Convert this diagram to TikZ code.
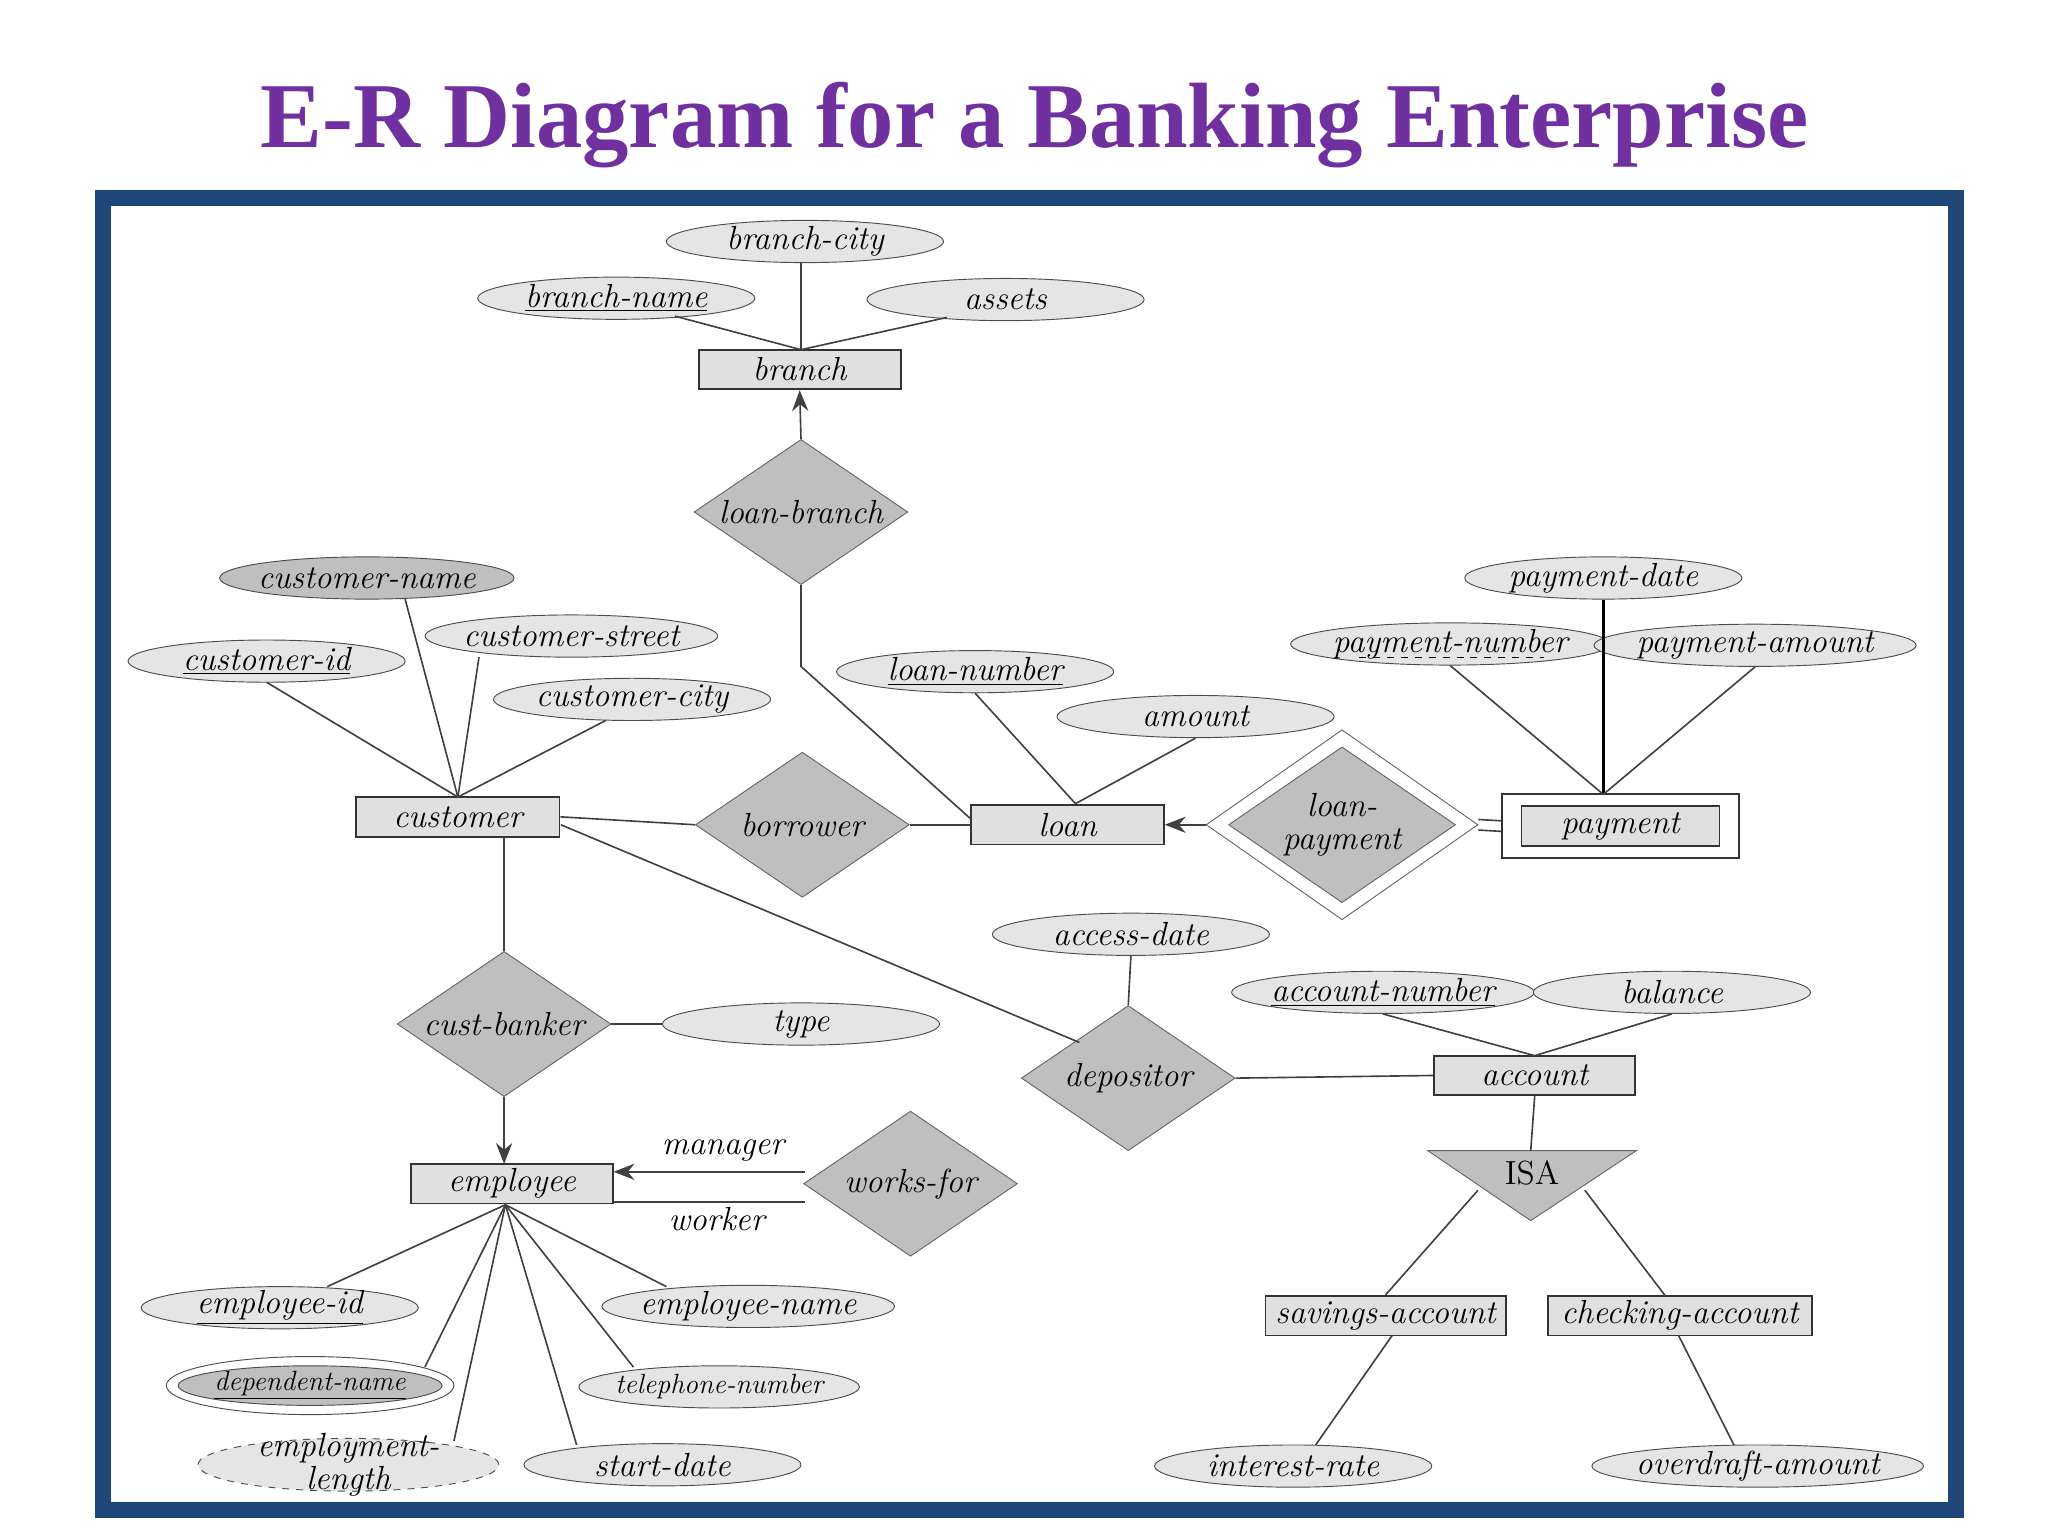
\documentclass[tikz,border=0pt]{standalone}
\usepackage{fontspec}
\newfontfamily\titlefont{Liberation Serif}
\usetikzlibrary{shapes.geometric,arrows.meta,calc}
\definecolor{frameblue}{RGB}{33,70,120}
\definecolor{titlepurple}{RGB}{112,48,160}
\begin{document}
\begin{tikzpicture}[x=0.02cm,y=-0.02cm,
  every node/.style={font=\itshape\Large},
  attr/.style={ellipse,draw=black!70,fill=black!10,minimum width=210*0.02cm,minimum height=32*0.02cm,inner sep=-2pt},
  ent/.style={rectangle,draw=black!80,fill=black!12,minimum height=30*0.02cm,inner sep=1pt,thick},
  rel/.style={diamond,draw=black!60,fill=black!25,minimum width=162*0.02cm,minimum height=110*0.02cm,inner sep=0pt,aspect=1.47},
  ln/.style={draw=black!75,line width=0.7pt},
  arr/.style={ln,-{Stealth[length=9pt,width=7pt]}}]
\useasboundingbox (0,0) rectangle (1552,1164);
\node[font=\titlefont\bfseries\fontsize{40}{44}\selectfont,text=titlepurple] (title) at (784,95) {E-R Diagram for a Banking Enterprise};
\draw[frameblue,line width=12*0.02cm] (78,150) rectangle (1482,1144);
% branch
\node[ent,minimum width=153*0.02cm] (branch) at (606,280) {branch};
\node[attr] (bcity) at (610,183) {branch-city};
\node[attr] (bname) at (467,226) {\underline{branch-name}};
\node[attr] (assets) at (762,227) {assets};
\coordinate (btop) at (607,265);
\draw[ln] (bname.south east) ++(-30,2) -- (btop);
\draw[ln] (assets.south west) ++(30,2) -- (btop);
\draw[ln] (607,199) -- (btop);
\node[rel] (lbranch) at (607,388) {loan-branch};
\draw[arr] (lbranch.north) -- (branch.south);
% customer
\node[ent,minimum width=154*0.02cm] (customer) at (347,619) {customer};
\node[attr,fill=black!25] (cname) at (278,438) {customer-name};
\node[attr] (cstreet) at (433,482) {customer-street};
\node[attr] (cid) at (202,501) {\underline{customer-id}};
\node[attr] (ccity) at (479,530) {customer-city};
\coordinate (ctop) at (347,604);
\draw[ln] (307,454) -- (ctop);
\draw[ln] (363,498) -- (ctop);
\draw[ln] (202,517) -- (ctop);
\draw[ln] (459,546) -- (ctop);
% loan
\node[rel] (borrower) at (608,625) {borrower};
\node[ent,minimum width=146*0.02cm] (loan) at (809,625) {loan};
\node[attr] (lnum) at (739,509) {\underline{loan-number}};
\node[attr] (amount) at (906,543) {amount};
\draw[ln] (customer.east) -- (borrower.west);
\draw[ln] (borrower.east) -- (loan.west);
\draw[ln] (lnum.south) -- (815,609);
\draw[ln] (amount.south) -- (815,609);
\coordinate (lbbend) at (607,505);
\draw[ln] (lbranch.south) -- (lbbend) -- (735,620);
% loan-payment
\node[diamond,draw=black!60,fill=white,minimum width=206*0.02cm,minimum height=144*0.02cm,aspect=1.43,inner sep=0pt] (lpo) at (1017,625) {};
\node[rel,minimum width=172*0.02cm,minimum height=118*0.02cm,align=center,font=\itshape\Large\linespread{0.8}\selectfont] (lpay) at (1017,625) {loan-\\payment};
\draw[arr] (lpo.west) -- (loan.east);
\node[rectangle,draw=black!80,thick,minimum width=180*0.02cm,minimum height=48*0.02cm] (payo) at (1228,626) {};
\node[ent,minimum width=150*0.02cm] (payment) at (1228,626) {payment};
\draw[ln] ($(lpo.east)+(0,-4)$) -- ($(payo.west)+(0,-4)$);
\draw[ln] ($(lpo.east)+(0,4)$) -- ($(payo.west)+(0,4)$);
\node[attr] (pdate) at (1215,438) {payment-date};
\node[attr] (pnum) at (1099,488) {payment-number};
\coordinate (pnuL) at (1030,498);
\coordinate (pnuR) at (1170,498);
\draw[dashed,thin] (pnuL) -- (pnuR);
\node[attr] (pamt) at (1330,489) {payment-amount};
\coordinate (ptop) at (1215,602);
\draw[line width=1.4pt] (pdate.south) -- (ptop);
\draw[ln] (pnum.south) -- (ptop);
\draw[ln] (pamt.south) -- (ptop);
% depositor / account
\node[rel] (depositor) at (855,817) {depositor};
\node[attr] (adate) at (857,708) {access-date};
\node[ent,minimum width=152*0.02cm] (account) at (1163,815) {account};
\node[attr] (anum) at (1048,752) {\underline{account-number}};
\node[attr] (balance) at (1267,752) {balance};
\draw[ln] (adate.south) -- (depositor.north);
\draw[ln] (425,625) -- (818,790);
\draw[ln] (depositor.east) -- (account.west);
\draw[ln] (anum.south) -- (1163,800);
\draw[ln] (balance.south) -- (1163,800);
% ISA
\draw[draw=black!60,fill=black!25] (1082,872) -- (1240,872) -- (1160,925) -- cycle;
\node[font=\Large] (isa) at (1161,889) {ISA};
\draw[ln] (account.south) -- (1160,872);
\node[ent,minimum width=182*0.02cm] (savings) at (1050,997) {savings-account};
\node[ent,minimum width=200*0.02cm] (checking) at (1273,997) {checking-account};
\draw[ln] (1120,902) -- (savings.north);
\draw[ln] (1201,902) -- (1262,982);
\node[attr] (irate) at (980,1111) {interest-rate};
\node[attr] (odraft) at (1332,1111) {overdraft-amount};
\draw[ln] (1055,1012) -- (997,1095);
\draw[ln] (1272,1012) -- (1314,1095);
% cust-banker / employee
\node[rel] (cbanker) at (382,776) {cust-banker};
\node[attr] (type) at (607,776) {type};
\node[ent,minimum width=153*0.02cm] (employee) at (388,897) {employee};
\draw[ln] (382,634) -- (cbanker.north);
\draw[arr] (cbanker.south) -- (382,882);
\draw[ln] (cbanker.east) -- (type.west);
\node[rel] (worksfor) at (690,897) {works-for};
\draw[arr] (610,888) -- (465,888);
\draw[ln] (610,911) -- (465,911);
\node (mgr) at (548,872) {manager};
\node (wkr) at (543,924) {worker};
\node[attr] (eid) at (212,991) {\underline{employee-id}};
\node[attr] (ename) at (567,990) {employee-name};
\node[ellipse,draw=black!70,fill=white,minimum width=218*0.02cm,minimum height=44*0.02cm,inner sep=0pt] (dno) at (235,1050) {};
\node[attr,fill=black!25,minimum width=200*0.02cm,minimum height=30*0.02cm,font=\itshape\large] (dname) at (235,1050) {\underline{dependent-name}};
\node[attr,font=\itshape\large] (tel) at (545,1051) {telephone-number};
\node[attr,dashed,minimum height=40*0.02cm,minimum width=228*0.02cm,inner sep=-6pt,align=center,font=\itshape\Large\linespread{0.65}\selectfont] (elen) at (264,1110) {employment-\\length};
\node[attr] (sdate) at (502,1110) {start-date};
\coordinate (ebot) at (383,913);
\draw[ln] (ebot) -- (248,975);
\draw[ln] (ebot) -- (505,975);
\draw[ln] (ebot) -- (322,1036);
\draw[ln] (ebot) -- (480,1036);
\draw[ln] (ebot) -- (344,1092);
\draw[ln] (ebot) -- (437,1095);
\end{tikzpicture}
\end{document}
